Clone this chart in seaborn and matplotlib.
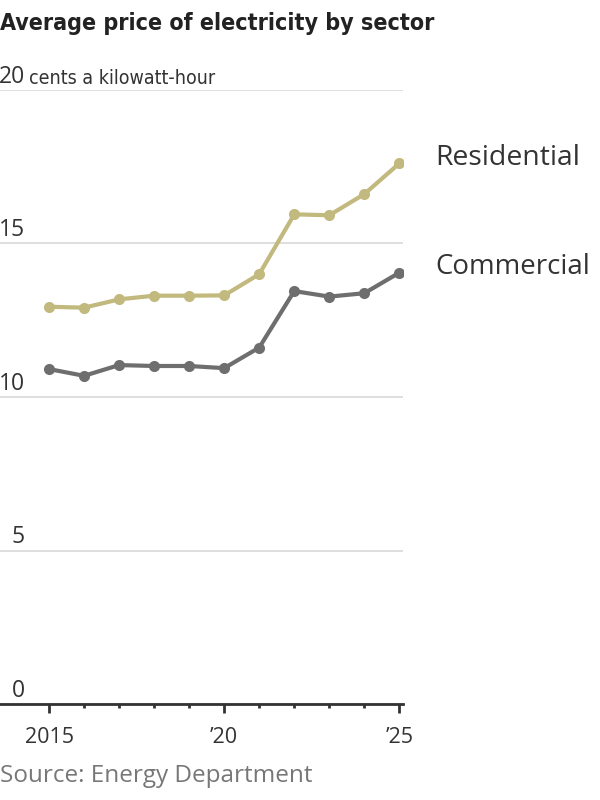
import matplotlib
matplotlib.use("Agg")
import matplotlib.pyplot as plt
import matplotlib.transforms as mtransforms
from matplotlib import font_manager
import seaborn as sns
import pandas as pd

years = [2015, 2016, 2017, 2018, 2019, 2020, 2021, 2022, 2023, 2024, 2025]
residential = [12.94, 12.91, 13.18, 13.30, 13.30, 13.31, 14.00, 15.95, 15.92, 16.61, 17.61]
commercial = [10.91, 10.69, 11.04, 11.01, 11.01, 10.94, 11.61, 13.45, 13.27, 13.38, 14.05]
series_names = ["Residential", "Commercial"]
y_ticks = [0, 5, 10, 15, 20]
y_tick_labels = ["0", "5", "10", "15", "20"]
y_unit = "cents a kilowatt-hour"
x_major = [2015, 2020, 2025]
x_major_labels = ["2015", "\u201920", "\u201925"]
title = "Average price of electricity by sector"
source = "Source: Energy Department"

colors = {"Residential": "#c2b97e", "Commercial": "#6e6e6e"}

df = pd.DataFrame({
    "year": years * 2,
    "price": residential + commercial,
    "sector": ["Residential"] * len(years) + ["Commercial"] * len(years),
})

sns.set_style("white")
plt.rcParams["font.family"] = ["Open Sans", "DejaVu Sans"]

# look for an installed narrow / condensed face
narrow_props = dict(family=["Roboto", "DejaVu Sans"])
for f in font_manager.fontManager.ttflist:
    nm = (f.name + " " + str(f.fname)).lower()
    if ("narrow" in nm or "condensed" in nm) and "mono" not in nm and "serif" not in f.name.lower():
        narrow_props = dict(family=[f.name, "DejaVu Sans"], stretch=f.stretch)
        break

fig = plt.figure(figsize=(6, 8), dpi=100)
ax = fig.add_axes([0.0, 0.12, 0.672, 0.7675])

sns.lineplot(data=df, x="year", y="price", hue="sector", palette=colors,
             hue_order=series_names, marker="o", markersize=8, markeredgewidth=0,
             linewidth=3, legend=False, ax=ax, zorder=3)

ax.set_xlim(2013.6, 2025.11)
ax.set_ylim(0, 20)
ax.set_xlabel("")
ax.set_ylabel("")

ax.set_yticks(y_ticks)
ax.set_yticklabels([])
ax.tick_params(axis="y", length=0)
ax.grid(axis="y", color="#dcdcdc", linewidth=1.3)
ax.grid(axis="x", visible=False)
for s in ["top", "right", "left"]:
    ax.spines[s].set_visible(False)
ax.spines["bottom"].set_color("#333333")
ax.spines["bottom"].set_linewidth(2)
ax.spines["bottom"].set_zorder(4)

W = 600.0
trans = mtransforms.blended_transform_factory(ax.transAxes, ax.transData)
num_x = 25 / (0.672 * W)
for v, lab in zip(y_ticks, y_tick_labels):
    ax.text(num_x, v + 0.23, lab, transform=trans, ha="right", va="baseline",
            fontsize=16.5, color="#333333")
unit_txt = ax.text(29 / (0.672 * W), y_ticks[-1] + 0.2, y_unit, transform=trans,
                   ha="left", va="baseline", fontsize=16.5, color="#333333",
                   **narrow_props)

ax.set_xticks(x_major)
ax.set_xticklabels(x_major_labels, fontsize=15.5, color="#333333")
ax.set_xticks(years, minor=True)
ax.tick_params(axis="x", which="major", length=6.5, width=2, color="#333333",
               direction="out", pad=10, bottom=True)
ax.tick_params(axis="x", which="minor", length=3.2, width=2, color="#333333",
               direction="out", bottom=True)

labels = {}
for name, vals, dy in [("Residential", residential, 4), ("Commercial", commercial, 4)]:
    labels[name] = ax.annotate(name, xy=(years[-1], vals[-1]), xytext=(26, dy),
                               textcoords="offset points", ha="left", va="center",
                               fontsize=20.5, color="#333333", annotation_clip=False)

title_txt = fig.text(0.0, 1 - 30 / 800, title, ha="left", va="baseline", fontsize=22,
                     fontweight="bold", color="#222222", **narrow_props)
source_txt = fig.text(0.0, 1 - 782 / 800, source, ha="left", va="baseline", fontsize=16,
                      color="#777777")

# fit widths of texts to the reference
fig.canvas.draw()
r = fig.canvas.get_renderer()
for t, target in [(title_txt, 432), (unit_txt, 185), (source_txt, 312),
                  (labels["Residential"], 145), (labels["Commercial"], 155)]:
    w = t.get_window_extent(r).width
    if w > 0:
        t.set_fontsize(t.get_fontsize() * target / w)

fig.savefig("out.png", dpi=100)
